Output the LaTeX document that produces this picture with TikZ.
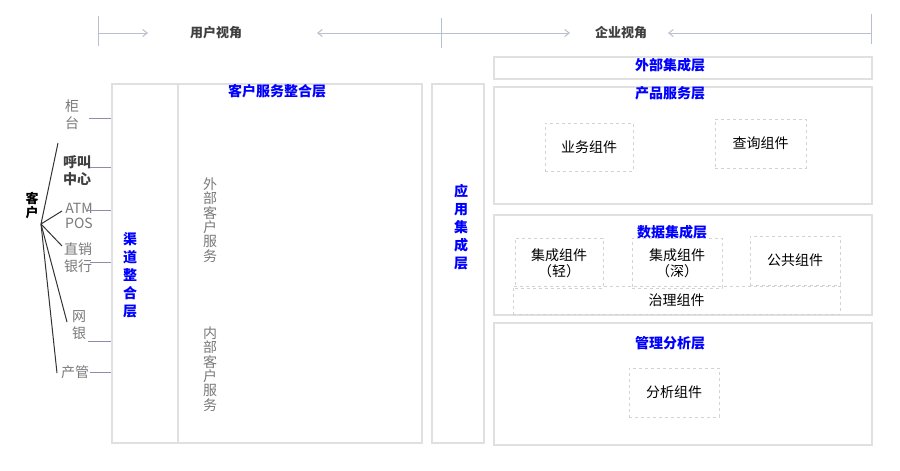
\documentclass[tikz,border=0pt]{standalone}
\usepackage{fontspec}
\setmainfont{Noto Sans CJK SC}
\usepackage{xcolor}
\usetikzlibrary{arrows.meta,positioning}
\definecolor{axis}{HTML}{B8C0D0}
\definecolor{frame}{HTML}{E0E0E0}
\definecolor{dashc}{HTML}{D2D2D2}
\definecolor{title}{HTML}{0000FF}
\definecolor{graytext}{HTML}{7A7A7A}
\definecolor{darktext}{HTML}{404040}
\definecolor{tick}{HTML}{8C8CAE}
\tikzset{
  layer/.style={draw=frame, line width=1.3pt, inner sep=0pt},
  comp/.style={draw=dashc, dashed, line width=0.9pt, inner sep=0pt, text=black,
    align=center, font=\fontsize{14}{16}\selectfont},
  ttl/.style={text=title, inner sep=0pt, font=\fontsize{14}{16}\selectfont\bfseries},
  vttl/.style={ttl, align=center, font=\fontsize{14}{18}\selectfont\bfseries},
  vlab/.style={text=graytext, inner sep=0pt, align=center, font=\fontsize{14}{14.4}\selectfont},
  chl/.style={text=graytext, inner sep=0pt, align=center, font=\fontsize{14}{17}\selectfont},
  view/.style={text=darktext, inner sep=0pt, font=\fontsize{13}{15}\selectfont\bfseries},
  axisline/.style={draw=axis, line width=1pt},
  axarrow/.style={axisline, -{Straight Barb[length=4.5pt,width=7pt]}},
  link/.style={draw=tick, line width=1pt},
  fan/.style={draw=black!80, line width=1pt}
}
\begin{document}
\begin{tikzpicture}[x=1pt,y=-1pt]
  \useasboundingbox (0,0) rectangle (900,471);
  \fill[white] (0,0) rectangle (900,471);

  % view axis on top
  \node[view] (uview) at (216,33) {用户视角};
  \node[view] (eview) at (621,33) {企业视角};
  \coordinate (ta) at (98,33);
  \coordinate (tb) at (441,33);
  \coordinate (tc) at (871,33);
  \draw[axisline] ([yshift=-13pt]ta) -- ([yshift=17pt]ta);
  \draw[axisline] ([yshift=-15pt]tb) -- ([yshift=15pt]tb);
  \draw[axisline] ([yshift=-11pt]tc) -- ([yshift=19pt]tc);
  \draw[axarrow] (ta) -- (148,33);
  \draw[axarrow] (tb) -- (317,33);
  \draw[axarrow] (tb) -- (570,33);
  \draw[axarrow] (tc) -- (668,33);

  % left column layers
  \node[layer, minimum width=66, minimum height=359] (chan) at (145,263.5) {};
  \node[layer, minimum width=244, minimum height=359] (csl) at (300,263.5) {};
  \node[layer, minimum width=52, minimum height=359] (app) at (458,263.5) {};
  \node[ttl] (cslt) at (277,91) {客户服务整合层};
  \node[vttl] (chant) at (130,275) {渠\\道\\整\\合\\层};
  \node[vttl] (appt) at (461,227) {应\\用\\集\\成\\层};
  \node[vlab] (ext) at (210,220) {外\\部\\客\\户\\服\\务};
  \node[vlab] (int) at (210,369) {内\\部\\客\\户\\服\\务};

  % right column layers
  \node[layer, minimum width=378, minimum height=22] (outl) at (683,68) {};
  \node[layer, minimum width=378, minimum height=117] (prod) at (683,145.5) {};
  \node[layer, minimum width=378, minimum height=100] (data) at (683,265) {};
  \node[layer, minimum width=378, minimum height=122] (mgmt) at (683,384) {};
  \node[ttl] (outlt) at (670,65) {外部集成层};
  \node[ttl] (prodt) at (670,93) {产品服务层};
  \node[ttl] (datat) at (672,232) {数据集成层};
  \node[ttl] (mgmtt) at (670,343) {管理分析层};

  % components
  \node[comp, minimum width=88, minimum height=48] (biz) at (589,147) {业务组件};
  \node[comp, minimum width=91, minimum height=49] (qry) at (760.5,143.5) {查询组件};
  \node[comp, minimum width=88, minimum height=50] (light) at (559,263) {集成组件\\（轻）};
  \node[comp, minimum width=90, minimum height=50] (deep) at (677,263) {集成组件\\（深）};
  \node[comp, minimum width=90, minimum height=49] (pub) at (795,260.5) {公共组件};
  \node[comp, minimum width=327, minimum height=28] (gov) at (676.5,300) {治理组件};
  \node[comp, minimum width=90, minimum height=49] (ana) at (674,392.5) {分析组件};

  % customer and channels
  \node[inner sep=0pt, align=center, font=\fontsize{13}{14}\selectfont\bfseries] (kh) at (32,206) {客\\户};
  \node[chl] (gt) at (72,115) {柜\\台};
  \node[chl, text=darktext, font=\fontsize{14}{17}\selectfont\bfseries] (hj) at (77,171) {呼叫\\中心};
  \node[chl, font=\fontsize{14}{15}\selectfont] (atm) at (79,216) {ATM\\POS};
  \node[chl] (zx) at (78,258) {直销\\银行};
  \node[chl] (wy) at (79,325) {网\\银};
  \node[chl] (cg) at (75,372) {产管};

  \coordinate (root) at (41,224);
  \foreach \p in {(58,143),(62,211),(62,246),(67,322),(57,373)}
    \draw[fan] (root) -- \p;

  \foreach \y/\x in {118/89,167/90,210/88,262/90,341/88,372/90}
    \draw[link] (\x,\y) -- (\x,\y -| chan.west);
\end{tikzpicture}
\end{document}
